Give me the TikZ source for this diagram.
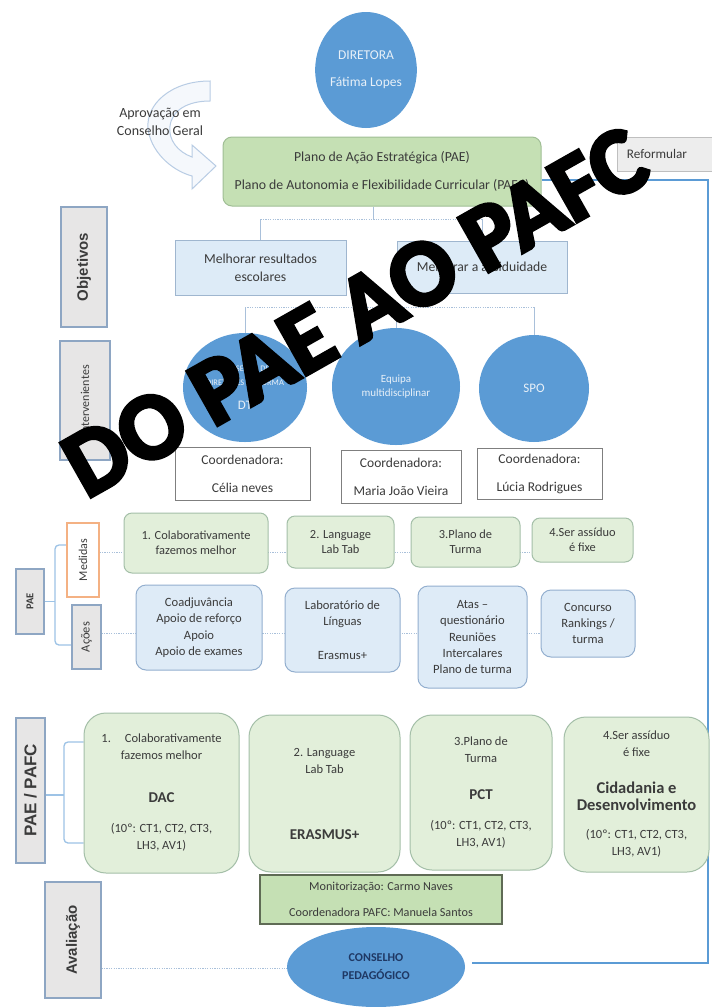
\documentclass[tikz,border=0pt]{standalone}
\usepackage{fontspec}
\usepackage{graphicx}
\setmainfont{Carlito}
\newfontfamily\labfont{Liberation Sans}
\newfontfamily\wmfont{Carlito}[BoldFeatures={FakeBold=4}]
\usetikzlibrary{shapes.geometric,backgrounds,calc}

\definecolor{cblue}{HTML}{5B9BD5}
\definecolor{ctext}{HTML}{E8F0F8}
\definecolor{navy}{HTML}{1F3864}
\definecolor{paegreen}{HTML}{C5E0B4}
\definecolor{paeborder}{HTML}{A0BE95}
\definecolor{medfill}{HTML}{E2EFDA}
\definecolor{medborder}{HTML}{A4BFA8}
\definecolor{acofill}{HTML}{DEEBF7}
\definecolor{acoborder}{HTML}{93AFCF}
\definecolor{objfill}{HTML}{DDEBF7}
\definecolor{objborder}{HTML}{9FB6CF}
\definecolor{sidefill}{HTML}{E7E6E6}
\definecolor{sideborder}{HTML}{8EA6C3}
\definecolor{orangeborder}{HTML}{F4B183}
\definecolor{coordborder}{HTML}{7F7F7F}
\definecolor{refgray}{HTML}{EDEDED}
\definecolor{refborder}{HTML}{BFBFBF}
\definecolor{monborder}{HTML}{5F6B55}
\definecolor{dotcol}{HTML}{A9C0DA}
\definecolor{bracecol}{HTML}{9DC3E6}
\definecolor{txt}{HTML}{3B3B3B}
\definecolor{arrowfill}{HTML}{F4F8FC}
\definecolor{arrowdraw}{HTML}{B8CCE4}

\begin{document}
\begin{tikzpicture}[x=1pt,y=-1pt,
  every node/.style={font=\fontsize{13.5}{16}\selectfont, text=txt},
  circ/.style={ellipse, fill=cblue, draw=none, inner sep=0pt, align=center, text=ctext},
  paebox/.style={rounded corners=9pt, fill=paegreen, draw=paeborder, line width=1pt, inner sep=0pt, align=center},
  refbox/.style={fill=refgray, draw=refborder, line width=1pt, inner sep=0pt},
  sidebox/.style={fill=sidefill, draw=sideborder, line width=1.2pt, inner sep=0pt},
  objbox/.style={fill=objfill, draw=objborder, line width=1pt, inner sep=0pt, align=center},
  coordbox/.style={fill=white, draw=coordborder, line width=1pt, inner sep=0pt, align=center},
  medbox/.style={rounded corners=8pt, fill=medfill, draw=medborder, line width=1pt, inner sep=0pt, align=center, font=\fontsize{12.4}{15}\selectfont},
  acobox/.style={rounded corners=10pt, fill=acofill, draw=acoborder, line width=1pt, inner sep=0pt, align=center, font=\fontsize{12.6}{16.4}\selectfont},
  pbox/.style={rounded corners=22pt, fill=medfill, draw=medborder, line width=1pt, inner sep=0pt, align=center, font=\fontsize{12.5}{17}\selectfont},
  monbox/.style={fill=paegreen, draw=monborder, line width=1.2pt, inner sep=0pt, align=center, font=\fontsize{12.2}{15}\selectfont},
  dotline/.style={draw=dotcol, line width=1pt, dash pattern=on 1.2pt off 1.2pt},
  stem/.style={draw=dotcol, line width=0.9pt},
  brace/.style={draw=bracecol, line width=1.3pt, rounded corners=4pt},
  backline/.style={draw=cblue, line width=2.3pt}]

\useasboundingbox (0,0) rectangle (712,1007);

% ---------- top: director, approval arrow, plans ----------
\node[circ, minimum width=100pt, minimum height=116pt] (dir) at (366,70)
  {DIRETORA\\[11pt]Fátima Lopes};

\draw[fill=arrowfill, draw=arrowdraw, line width=1pt, fill opacity=0.9]
  (210,81) .. controls (170,81) and (146,105) .. (148,128)
  .. controls (150,150) and (170,170) .. (192,176)
  -- (192,189) -- (216,166) -- (192,145) -- (192,157)
  .. controls (178,152) and (168,140) .. (170,126)
  .. controls (172,110) and (188,101) .. (210,101) -- cycle;
\node[align=center, font=\fontsize{14}{18}\selectfont] (apr) at (160,122)
  {Aprovação em\\Conselho Geral};

\node[paebox, minimum width=318pt, minimum height=69pt, font=\fontsize{13.8}{16}\selectfont] (pae) at (382,171.5)
  {Plano de Ação Estratégica (PAE)\\[12pt]Plano de Autonomia e Flexibilidade Curricular (PAFC)};

\node[refbox, minimum width=100pt, minimum height=34pt, font=\fontsize{13.2}{16}\selectfont] (ref) at (667,154)
  {Reformular\hspace*{20pt}};

% ---------- objectives ----------
\node[sidebox, minimum width=46pt, minimum height=120pt] (objl) at (84,267)
  {\rotatebox{90}{\labfont\bfseries\fontsize{15}{18}\selectfont Objetivos}};
\node[objbox, minimum width=171pt, minimum height=55pt, font=\fontsize{13.7}{18}\selectfont] (o1) at (260.5,267.5)
  {Melhorar resultados\\escolares};
\node[objbox, minimum width=170pt, minimum height=52pt, font=\fontsize{13.7}{18}\selectfont] (o2) at (482,267)
  {Melhorar a assiduidade};

% ---------- participants ----------
\node[sidebox, minimum width=50pt, minimum height=119pt] (intl) at (85,400.5)
  {\rotatebox{90}{\fontsize{12}{14}\selectfont Intervenientes}};
\node[circ, minimum width=124pt, minimum height=109pt, font=\fontsize{8.5}{14}\selectfont] (c1) at (245,387.5)
  {CONSELHO DE\\DIRETORES DE TURMA\\[10pt]{\fontsize{13}{14}\selectfont DT}};
\node[circ, minimum width=128pt, minimum height=117pt, font=\fontsize{11}{14}\selectfont] (c2) at (396,386.5)
  {Equipa\\multidisciplinar};
\node[circ, minimum width=110pt, minimum height=107pt, font=\fontsize{13}{16}\selectfont] (c3) at (534,388.5)
  {SPO};

\node[coordbox, minimum width=135pt, minimum height=53pt] (k1) at (242.5,473.5)
  {Coordenadora:\\[12pt]Célia neves};
\node[coordbox, minimum width=120pt, minimum height=53pt] (k2) at (401,476.5)
  {Coordenadora:\\[12pt]Maria João Vieira};
\node[coordbox, minimum width=125pt, minimum height=51pt] (k3) at (539.5,473.5)
  {Coordenadora:\\[12pt]Lúcia Rodrigues};

% ---------- PAE: measures and actions ----------
\node[sidebox, minimum width=28pt, minimum height=65pt] (paelab) at (30,601.5)
  {\rotatebox{90}{\bfseries\fontsize{10.5}{12}\selectfont PAE}};
\node[sidebox, draw=orangeborder, fill=white, minimum width=32pt, minimum height=74pt] (medlab) at (83,560)
  {\rotatebox{90}{\fontsize{12}{14}\selectfont Medidas}};
\node[sidebox, minimum width=29pt, minimum height=64pt] (acolab) at (86.5,637)
  {\rotatebox{90}{\fontsize{12.5}{14}\selectfont Ações}};

\node[medbox, minimum width=144pt, minimum height=60pt] (m1) at (196,543)
  {1. Colaborativamente\\fazemos melhor};
\node[medbox, minimum width=107pt, minimum height=52pt] (m2) at (340.5,542)
  {2. Language\\Lab Tab};
\node[medbox, minimum width=109pt, minimum height=50pt] (m3) at (465.5,542)
  {3.Plano de\\Turma};
\node[medbox, minimum width=101pt, minimum height=44pt] (m4) at (582.5,540)
  {4.Ser assíduo\\é fixe};

\node[acobox, minimum width=126pt, minimum height=85pt] (a1) at (199,627.5)
  {Coadjuvância\\Apoio de reforço\\Apoio\\Apoio de exames};
\node[acobox, minimum width=115pt, minimum height=84pt] (a2) at (342.5,630)
  {Laboratório de\\Línguas\\[17pt]Erasmus+};
\node[acobox, minimum width=109pt, minimum height=102pt] (a3) at (472.5,637)
  {Atas –\\questionário\\Reuniões\\Intercalares\\Plano de turma};
\node[acobox, minimum width=94pt, minimum height=67pt] (a4) at (588,623.5)
  {Concurso\\Rankings /\\turma};

% ---------- PAE / PAFC ----------
\node[sidebox, minimum width=29pt, minimum height=145pt] (pplab) at (30.5,790.5)
  {\rotatebox{90}{\labfont\bfseries\fontsize{17}{20}\selectfont PAE / PAFC}};

\node[pbox, minimum width=155pt, minimum height=160pt] (p1) at (161.5,793)
  {1.\hspace{14pt}Colaborativamente\\fazemos melhor\\[26pt]
   {\bfseries\fontsize{15}{17}\selectfont DAC}\\[13pt]
   (10º: CT1, CT2, CT3,\\LH3, AV1)};
\node[pbox, minimum width=151pt, minimum height=157pt] (p2) at (324.5,793.5)
  {2. Language\\Lab Tab\\[49pt]
   {\bfseries\fontsize{15}{17}\selectfont ERASMUS+}};
\node[pbox, minimum width=142pt, minimum height=155pt] (p3) at (481,792.5)
  {3.Plano de\\Turma\\[20pt]
   {\bfseries\fontsize{15}{17}\selectfont PCT}\\[13pt]
   (10º: CT1, CT2, CT3,\\LH3, AV1)};
\node[pbox, minimum width=145pt, minimum height=155pt] (p4) at (636.5,794.5)
  {4.Ser assíduo\\é fixe\\[20pt]
   {\bfseries\fontsize{16.5}{18}\selectfont Cidadania e}\\
   {\bfseries\fontsize{16.5}{18}\selectfont Desenvolvimento}\\[11pt]
   (10º: CT1, CT2, CT3,\\LH3, AV1)};

% ---------- evaluation ----------
\node[monbox, minimum width=242pt, minimum height=49pt] (mon) at (381,899.5)
  {Monitorização: Carmo Naves\\[11pt]Coordenadora PAFC: Manuela Santos};
\node[sidebox, minimum width=56pt, minimum height=116pt] (avl) at (73,940)
  {\rotatebox{90}{\labfont\bfseries\fontsize{15}{18}\selectfont Avaliação}};
\node[circ, minimum width=178pt, minimum height=80pt, text=navy, font=\bfseries\fontsize{12}{18}\selectfont] (cp) at (376,967)
  {CONSELHO\\PEDAGÓGICO};

% ---------- connectors ----------
\coordinate (j1) at (373,219);
\coordinate (j2) at (0,307);
\coordinate (b1) at (55,601.5);
\coordinate (b2) at (64,795);
\coordinate (ym) at (0,552);
\coordinate (ya) at (0,633);
\coordinate (r1) at (708,963);
\coordinate (r2) at (708,180);

\begin{scope}[on background layer]
  \fill[white] (0,0) rectangle (712,1007);

  \draw[stem] (pae.south -| j1) -- (j1);
  \draw[dotline] (o1.north |- j1) -- (o2.north |- j1);
  \draw[stem] (o1.north |- j1) -- (o1.north);
  \draw[stem] (o2.north |- j1) -- (o2.north);

  \draw[dotline] (c1.north |- j2) -- (c3.north |- j2);
  \draw[stem] (c1.north |- j2) -- (c1.north);
  \draw[stem] (c2.north |- j2) -- (c2.north);
  \draw[stem] (c3.north |- j2) -- (c3.north);

  \draw[brace] (medlab.west |- 0,545) -| (b1) |- (acolab.west |- 0,645);
  \draw[brace] (paelab.east) -- (b1);
  \draw[dotline] (medlab.east |- ym) -- (m4.west |- ym);
  \draw[dotline] (acolab.east |- ya) -- (a4.west |- ya);

  \draw[brace] (p1.west |- 0,742) -| (b2) |- (p1.west |- 0,843);
  \draw[brace] (pplab.east |- b2) -- (b2);

  \draw[dotline] (avl.east |- 0,968) -- (cp.west |- 0,968);

  \draw[backline] ([xshift=7pt]cp.east |- r1) -- (r1) -- (r2) -- (pae.east |- r2);
\end{scope}

% ---------- overlay lettering ----------
\node[font=\wmfont\bfseries\fontsize{95}{95}\selectfont, text=black, rotate=29.5, inner sep=0pt] (wm) at (355,312)
  {DO PAE AO PAFC};

\end{tikzpicture}
\end{document}
